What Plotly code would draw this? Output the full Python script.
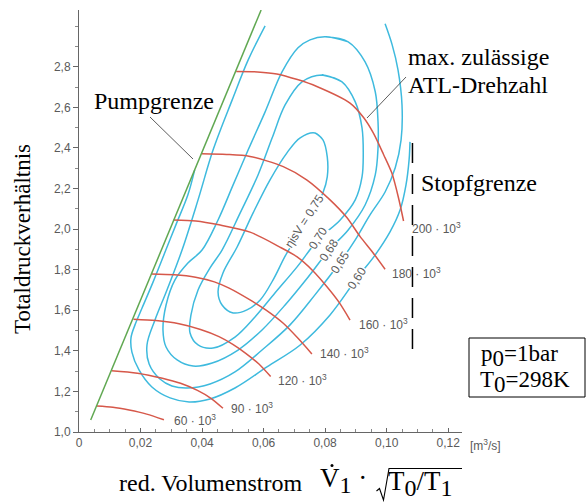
import plotly.graph_objects as go

# ---------------- data ----------------
# Surge limit (Pumpgrenze)
surge_x = [0.0038, 0.0592]
surge_y = [1.059, 3.080]

# Choke limit (Stopfgrenze)
choke_x = [0.1084, 0.1084]
choke_y = [2.425, 1.375]

# Lines of constant speed, n in 1/min (x 10^3)
speed_labels = ["60", "90", "120", "140", "160", "180", "200"]
speed_60_x = [0.0058, 0.0110, 0.0163, 0.0220, 0.0276]
speed_60_y = [1.128, 1.122, 1.108, 1.088, 1.060]
speed_90_x = [0.0106, 0.0190, 0.0271, 0.0330, 0.0385, 0.0430, 0.0468]
speed_90_y = [1.302, 1.290, 1.265, 1.240, 1.205, 1.165, 1.117]
speed_120_x = [0.0177, 0.0250, 0.0325, 0.0395, 0.0455, 0.0500, 0.0542, 0.0585, 0.0623]
speed_120_y = [1.556, 1.549, 1.533, 1.505, 1.470, 1.432, 1.388, 1.335, 1.273]
speed_140_x = [0.0236, 0.0310, 0.0379, 0.0440, 0.0488, 0.0556, 0.0607, 0.0664, 0.0712, 0.0757]
speed_140_y = [1.779, 1.775, 1.763, 1.740, 1.709, 1.651, 1.602, 1.536, 1.462, 1.385]
speed_160_x = [0.0307, 0.0380, 0.0455, 0.0556, 0.0650, 0.0708, 0.0760, 0.0806, 0.0845, 0.0881]
speed_160_y = [2.045, 2.040, 2.021, 1.985, 1.914, 1.864, 1.795, 1.716, 1.640, 1.552]
speed_180_x = [0.0399, 0.0480, 0.0556, 0.0664, 0.0740, 0.0816, 0.0870, 0.0914, 0.0955, 0.0995]
speed_180_y = [2.371, 2.368, 2.358, 2.308, 2.243, 2.144, 2.058, 1.963, 1.885, 1.802]
speed_200_x = [0.0511, 0.0580, 0.0643, 0.0710, 0.0773, 0.0881, 0.0925, 0.0957, 0.0990, 0.1017, 0.1040, 0.1055]
speed_200_y = [2.777, 2.775, 2.765, 2.737, 2.703, 2.621, 2.550, 2.473, 2.368, 2.276, 2.145, 2.040]

# Label anchor for each speed line
speed_label_x = [0.0302, 0.0488, 0.0641, 0.0778, 0.0903, 0.1011, 0.1076]
speed_label_y = [1.059, 1.118, 1.256, 1.390, 1.532, 1.784, 2.006]

# Isentropic efficiency contours (eta_isV)
eff_060_x = [0.0376, 0.0354, 0.0315, 0.0280, 0.0241, 0.0205, 0.0182, 0.0169, 0.0172, 0.0195,
             0.0237, 0.0296, 0.0358, 0.0426, 0.0507, 0.0611, 0.0719, 0.0816, 0.0904, 0.0963,
             0.1011, 0.1044, 0.1063, 0.1073, 0.1076]
eff_060_y = [2.292, 2.169, 2.021, 1.888, 1.740, 1.611, 1.528, 1.464, 1.394, 1.306,
             1.222, 1.168, 1.148, 1.163, 1.217, 1.321, 1.429, 1.577, 1.759, 1.873,
             1.986, 2.095, 2.218, 2.341, 2.430]

eff_065_x = [0.0605, 0.0550, 0.0498, 0.0436, 0.0387, 0.0335, 0.0286, 0.0247, 0.0221, 0.0228,
             0.0263, 0.0302, 0.0351, 0.0426, 0.0507, 0.0595, 0.0686, 0.0767, 0.0849, 0.0898,
             0.0946, 0.0995, 0.1028, 0.1047, 0.1050, 0.1037, 0.1018, 0.0995]
eff_065_y = [3.002, 2.834, 2.637, 2.391, 2.144, 1.897, 1.700, 1.552, 1.429, 1.335,
             1.261, 1.227, 1.217, 1.237, 1.296, 1.404, 1.528, 1.676, 1.838, 1.947,
             2.070, 2.183, 2.302, 2.440, 2.612, 2.785, 2.908, 3.012]

eff_068_x = [0.0800, 0.0875, 0.0930, 0.0963, 0.0972, 0.0972, 0.0963, 0.0930, 0.0875, 0.0813,
             0.0745, 0.0670, 0.0595, 0.0517, 0.0433, 0.0371, 0.0319, 0.0283, 0.0273, 0.0283,
             0.0312, 0.0354, 0.0400, 0.0452, 0.0501, 0.0550, 0.0605, 0.0660, 0.0712, 0.0751,
             0.0800, 0.0875]
eff_068_y = [2.948, 2.923, 2.824, 2.677, 2.529, 2.400, 2.267, 2.119, 1.996, 1.897,
             1.764, 1.626, 1.503, 1.404, 1.340, 1.325, 1.355, 1.419, 1.503, 1.626,
             1.750, 1.833, 1.897, 2.045, 2.218, 2.391, 2.578, 2.775, 2.894, 2.933,
             2.948, 2.923]

eff_070_x = [0.0790, 0.0855, 0.0898, 0.0920, 0.0924, 0.0920, 0.0898, 0.0849, 0.0777, 0.0709,
             0.0637, 0.0572, 0.0507, 0.0436, 0.0387, 0.0361, 0.0364, 0.0387, 0.0426, 0.0465,
             0.0524, 0.0582, 0.0628, 0.0670, 0.0725, 0.0790, 0.0855]
eff_070_y = [2.760, 2.726, 2.627, 2.499, 2.366, 2.257, 2.144, 2.045, 1.947, 1.814,
             1.685, 1.567, 1.468, 1.414, 1.429, 1.488, 1.577, 1.700, 1.809, 1.897,
             2.080, 2.267, 2.450, 2.612, 2.726, 2.760, 2.726]

eff_075_x = [0.0767, 0.0793, 0.0807, 0.0807, 0.0793, 0.0741, 0.0676, 0.0631, 0.0589, 0.0546,
             0.0501, 0.0465, 0.0452, 0.0468, 0.0514, 0.0566, 0.0621, 0.0676, 0.0719, 0.0767,
             0.0793]
eff_075_y = [2.474, 2.440, 2.356, 2.257, 2.179, 2.031, 1.883, 1.750, 1.651, 1.602,
             1.587, 1.626, 1.690, 1.784, 1.912, 2.080, 2.243, 2.376, 2.450, 2.474,
             2.440]

eff_labels = ["0,60", "0,65", "0,68", "0,70", "ηisV = 0,75"]
eff_label_x = [0.0904, 0.0849, 0.0813, 0.0777, 0.0733]
eff_label_y = [1.759, 1.838, 1.897, 1.957, 2.040]

# Axis ticks
x_tickvals = [0, 0.02, 0.04, 0.06, 0.08, 0.10, 0.12]
x_ticktext = ["0", "0,02", "0,04", "0,06", "0,08", "0,10", "0,12"]
y_tickvals = [1.0, 1.2, 1.4, 1.6, 1.8, 2.0, 2.2, 2.4, 2.6, 2.8]
y_ticktext = ["1,0", "1,2", "1,4", "1,6", "1,8", "2,0", "2,2", "2,4", "2,6", "2,8"]

# ---------------- styling ----------------
RED = "rgb(214,88,74)"
BLUE = "rgb(62,186,222)"
GREEN = "rgb(96,168,82)"
GREY = "#5a5a5a"
SERIF = "Liberation Serif, Times New Roman, serif"
SANS = "Liberation Sans, Arial, sans-serif"

W, H = 586, 504
ML, MR, MT, MB = 79, 124, 10, 72


def paper_x(px):
    return (px - ML) / (W - ML - MR)


def paper_y(py):
    return (H - MB - py) / (H - MT - MB)


def low(t, size):
    """Full-size character set slightly below the baseline."""
    return f"<sub><span style='font-size:{size}px'>{t}</span></sub>"


fig = go.Figure()

# efficiency contours
for xs, ys in [(eff_060_x, eff_060_y), (eff_065_x, eff_065_y), (eff_068_x, eff_068_y),
               (eff_070_x, eff_070_y), (eff_075_x, eff_075_y)]:
    fig.add_trace(go.Scatter(x=xs, y=ys, mode="lines",
                             line=dict(color=BLUE, width=1.5, shape="spline", smoothing=1.0),
                             hoverinfo="skip", showlegend=False))

# speed lines
speed_lines = [(speed_60_x, speed_60_y), (speed_90_x, speed_90_y), (speed_120_x, speed_120_y),
               (speed_140_x, speed_140_y), (speed_160_x, speed_160_y), (speed_180_x, speed_180_y),
               (speed_200_x, speed_200_y)]
for xs, ys in speed_lines:
    fig.add_trace(go.Scatter(x=xs, y=ys, mode="lines",
                             line=dict(color=RED, width=1.5, shape="spline", smoothing=0.8),
                             hoverinfo="skip", showlegend=False))

# surge limit
fig.add_trace(go.Scatter(x=surge_x, y=surge_y, mode="lines",
                         line=dict(color=GREEN, width=1.5), hoverinfo="skip", showlegend=False))

# choke limit
fig.add_trace(go.Scatter(x=choke_x, y=choke_y, mode="lines",
                         line=dict(color="black", width=1.5, dash="20px,11px"),
                         hoverinfo="skip", showlegend=False))

annotations = []

# speed labels
for lab, lx, ly in zip(speed_labels, speed_label_x, speed_label_y):
    annotations.append(dict(x=lx, y=ly, xref="x", yref="y", text=f"{lab} · 10<sup>3</sup>",
                            showarrow=False, xanchor="left", yanchor="middle",
                            font=dict(family=SANS, size=12, color=GREY)))

# efficiency labels, set into the contour lines
for lab, lx, ly in zip(eff_labels, eff_label_x, eff_label_y):
    annotations.append(dict(x=lx, y=ly, xref="x", yref="y", text=lab, showarrow=False,
                            textangle=-57, xanchor="center", yanchor="middle",
                            bgcolor="white", borderpad=0,
                            font=dict(family=SANS, size=12, color=GREY)))


def serif_note(text, px, py, size=24, xanchor="left"):
    return dict(x=paper_x(px), y=paper_y(py), xref="paper", yref="paper", text=text,
                showarrow=False, xanchor=xanchor, yanchor="middle",
                font=dict(family=SERIF, size=size, color="black"))


annotations += [
    serif_note("Pumpgrenze", 92, 101),
    serif_note("max. zulässige", 406, 57),
    serif_note("ATL-Drehzahl", 406, 85),
    serif_note("Stopfgrenze", 419, 183),
    # parameter box
    serif_note("p" + low("0", 23) + "=1bar", 479, 356, 23),
    serif_note("T" + low("0", 23) + "=298K", 478, 382, 23),
    # x-axis title
    serif_note("red. Volumenstrom", 117, 483, 24),
    serif_note("V" + low("1", 24) + "&nbsp;·", 318, 481, 27),
    serif_note("T" + low("0", 24) + "/T" + low("1", 24), 386, 483, 27),
]

# y-axis title
annotations.append(dict(x=paper_x(22), y=paper_y(239), xref="paper", yref="paper",
                        text="Totaldruckverhältnis", textangle=-90, showarrow=False,
                        xanchor="center", yanchor="middle",
                        font=dict(family=SERIF, size=23, color="black")))

# unit label of x axis
annotations.append(dict(x=paper_x(485), y=paper_y(445), xref="paper", yref="paper",
                        text="[m<sup>3</sup>/s]", showarrow=False, xanchor="center",
                        yanchor="middle", font=dict(family=SANS, size=12, color=GREY)))

shapes = [
    # leader lines
    dict(type="line", xref="paper", yref="paper", x0=paper_x(150), y0=paper_y(117),
         x1=paper_x(193), y1=paper_y(159), line=dict(color="#333", width=0.8)),
    dict(type="line", xref="paper", yref="paper", x0=paper_x(406), y0=paper_y(77),
         x1=paper_x(367), y1=paper_y(118), line=dict(color="#333", width=0.8)),
    # parameter box
    dict(type="rect", xref="paper", yref="paper", x0=paper_x(469), y0=paper_y(338),
         x1=paper_x(585), y1=paper_y(397), line=dict(color="black", width=1)),
    # dot over V
    dict(type="circle", xref="paper", yref="paper", x0=paper_x(330.5), y0=paper_y(464),
         x1=paper_x(333.5), y1=paper_y(467), fillcolor="black", line=dict(width=0)),
    # square-root sign
    dict(type="path", xref="paper", yref="paper",
         path=(f"M {paper_x(376.5)},{paper_y(491)} L {paper_x(379.5)},{paper_y(488.5)} "
               f"L {paper_x(383.5)},{paper_y(500)} L {paper_x(389)},{paper_y(468.5)} "
               f"L {paper_x(462)},{paper_y(468.5)}"),
         line=dict(color="black", width=1.1)),
]

fig.update_layout(
    width=W, height=H, autosize=False,
    margin=dict(l=ML, r=MR, t=MT, b=MB, pad=0),
    paper_bgcolor="white", plot_bgcolor="white",
    showlegend=False,
    annotations=annotations,
    shapes=shapes,
    xaxis=dict(range=[0, 0.1245], showgrid=False, zeroline=False,
               showline=True, linecolor="#666", linewidth=1,
               tickmode="array", tickvals=x_tickvals, ticktext=x_ticktext,
               ticks="inside", ticklen=4, tickcolor="#666", tickwidth=1,
               minor=dict(dtick=0.005, tick0=0, ticks="inside", ticklen=3, tickcolor="#888"),
               tickfont=dict(family=SANS, size=12, color=GREY)),
    yaxis=dict(range=[1.0, 3.08], showgrid=False, zeroline=False,
               showline=True, linecolor="#666", linewidth=1,
               tickmode="array", tickvals=y_tickvals, ticktext=y_ticktext,
               ticks="outside", ticklen=5, tickcolor="#666", tickwidth=1,
               minor=dict(dtick=0.1, tick0=1.0, ticks="outside", ticklen=3, tickcolor="#888"),
               tickfont=dict(family=SANS, size=12, color=GREY)),
)

fig.write_html("out.html")
